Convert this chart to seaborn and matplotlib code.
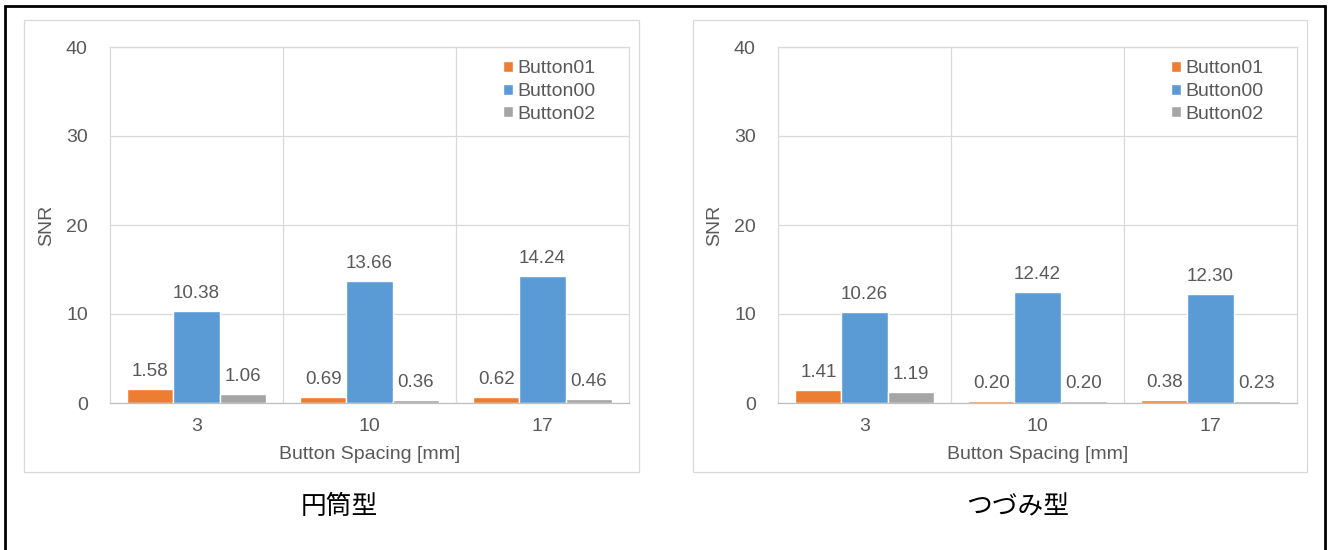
import matplotlib
matplotlib.use("Agg")
import matplotlib.pyplot as plt
from matplotlib.patches import Rectangle
import seaborn as sns
import pandas as pd

# data
spacing = ["3", "10", "17"]
buttons = ["Button01", "Button00", "Button02"]
colors = ["#ED7D31", "#5B9BD5", "#A5A5A5"]

cyl_b01 = [1.58, 0.69, 0.62]
cyl_b00 = [10.38, 13.66, 14.24]
cyl_b02 = [1.06, 0.36, 0.46]

tsu_b01 = [1.41, 0.20, 0.38]
tsu_b00 = [10.26, 12.42, 12.30]
tsu_b02 = [1.19, 0.20, 0.23]

captions = ["円筒型", "つづみ型"]

sns.set_theme(style="white")
plt.rcParams["font.family"] = ["Liberation Sans", "Noto Sans CJK JP", "DejaVu Sans"]

W, H = 1328, 550
TXT = "#595959"
GRID = "#D9D9D9"


def to_df(b01, b00, b02):
    rows = []
    for name, vals in zip(buttons, [b01, b00, b02]):
        for s, v in zip(spacing, vals):
            rows.append({"spacing": s, "button": name, "snr": v})
    return pd.DataFrame(rows)


def px_rect(x0, y0, x1, y1, **kw):
    return Rectangle((x0 / W, 1 - y1 / H), (x1 - x0) / W, (y1 - y0) / H,
                     transform=fig.transFigure, fill=False, **kw)


fig = plt.figure(figsize=(W / 100, H / 100), dpi=100)

# outer border and panel frames
fig.patches.append(px_rect(5, 6, 1325, 560, lw=2.0, edgecolor="black"))
fig.patches.append(px_rect(24, 20, 639, 472, lw=0.9, edgecolor=GRID))
fig.patches.append(px_rect(693, 20, 1307, 472, lw=0.9, edgecolor=GRID))

panels = [
    (110, 629, to_df(cyl_b01, cyl_b00, cyl_b02), 339),
    (778, 1297, to_df(tsu_b01, tsu_b00, tsu_b02), 1018),
]

for (xl, xr, df, cap_x), cap in zip(panels, captions):
    yt, yb = 47, 403
    ax = fig.add_axes([xl / W, 1 - yb / H, (xr - xl) / W, (yb - yt) / H])
    sns.barplot(data=df, x="spacing", y="snr", hue="button", order=spacing,
                hue_order=buttons, palette=colors, width=0.8, saturation=1,
                ax=ax)
    for cont in ax.containers:
        ax.bar_label(cont, fmt="%.2f", padding=6.5, fontsize=13.5, color=TXT)

    ax.set_xlim(-0.5, 2.5)
    ax.set_ylim(0, 40)
    ax.set_yticks([0, 10, 20, 30, 40])
    ax.set_xticks([0.5, 1.5], minor=True)
    ax.grid(True, axis="y", which="major", color=GRID, lw=0.9)
    ax.grid(True, axis="x", which="minor", color=GRID, lw=0.9)
    ax.grid(False, axis="x", which="major")
    ax.set_axisbelow(True)
    for side in ["top", "right", "left"]:
        ax.spines[side].set_color(GRID)
        ax.spines[side].set_linewidth(0.9)
    ax.spines["bottom"].set_color("#BFBFBF")
    ax.spines["bottom"].set_linewidth(0.9)
    ax.tick_params(axis="both", which="both", length=0, labelsize=14,
                   labelcolor=TXT)
    ax.tick_params(axis="y", pad=16)
    ax.tick_params(axis="x", pad=11)

    ax.set_ylabel("SNR", fontsize=14, color=TXT)
    ax.yaxis.set_label_coords(-0.106, 0.5)
    ax.set_xlabel("Button Spacing [mm]", fontsize=14, color=TXT)
    ax.xaxis.set_label_coords(0.5, -0.121)

    ax.legend(loc="upper left", bbox_to_anchor=(0.742, 0.985), frameon=False,
              fontsize=14, labelcolor=TXT, handlelength=0.5, handleheight=0.5,
              handletextpad=0.25, labelspacing=0.3, borderaxespad=0)

    fig.text(cap_x / W, 1 - 507 / H, cap, ha="center", va="center",
             fontsize=18.5, color="black")

fig.savefig("out.png", dpi=100)
